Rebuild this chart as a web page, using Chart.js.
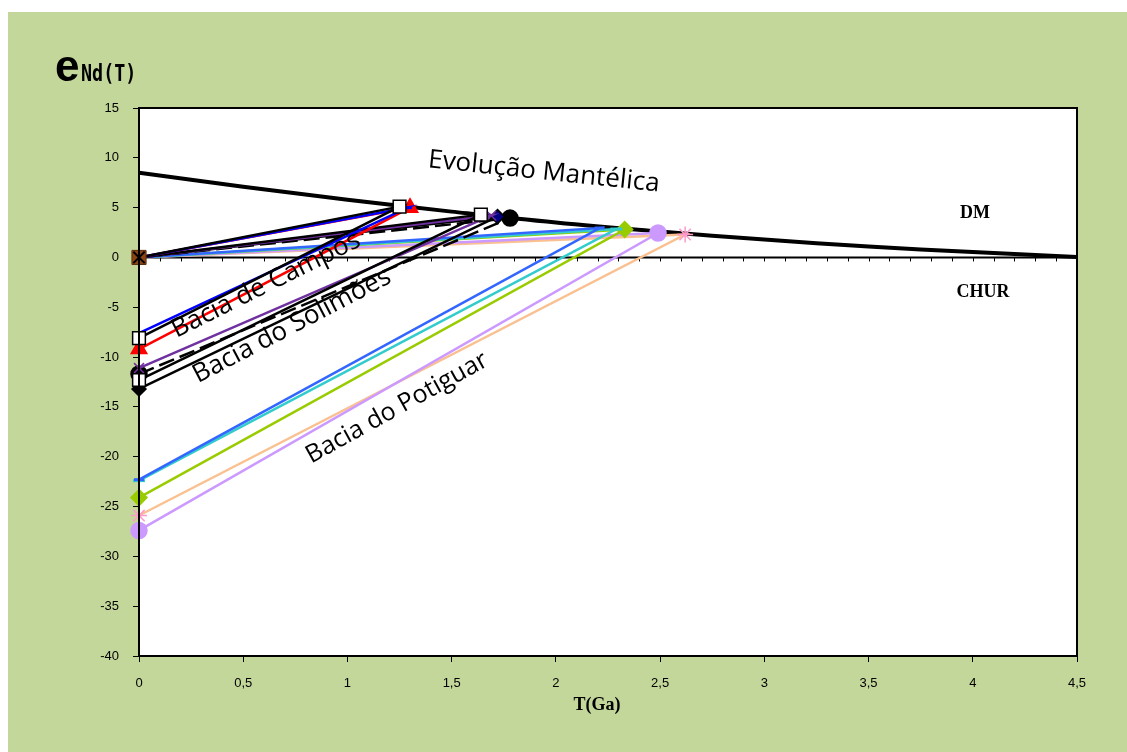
<!DOCTYPE html>
<html>
<head>
<meta charset="utf-8">
<script src="https://cdn.jsdelivr.net/npm/chart.js@4"></script>
<style>
  html, body { margin: 0; padding: 0; background: #ffffff; }
  canvas { display: block; }
</style>
</head>
<body>
<canvas id="nd" width="1127" height="752"></canvas>
<script>
// curva do manto empobrecido (DM)
var dmAges = [0, 0.5, 1, 1.5, 2, 2.5, 3, 3.5, 4, 4.5];
var dmEps = [8.5, 7.1, 5.8, 4.6, 3.5, 2.6, 1.8, 1.1, 0.55, 0.05];

// amostras: eNd(0), idade modelo TDM e eNd no TDM
var samples = ['Campos 1', 'Campos 2', 'Campos 3',
               'Solimoes 1', 'Solimoes 2', 'Solimoes 3', 'Solimoes 4',
               'Potiguar 1', 'Potiguar 2', 'Potiguar 3', 'Potiguar 4', 'Potiguar 5'];
var epsNow   = [-8.1, -7.6, -9.2, -12.3, -11.1, -13.2, -11.7, -22.3, -22.4, -24.1, -27.4, -25.9];
var tdmAges  = [1.25, 1.29, 1.30, 1.64, 1.69, 1.72, 1.78, 2.21, 2.29, 2.33, 2.49, 2.62];
var epsAtTdm = [5.1, 5.0, 5.0, 4.3, 4.2, 4.1, 3.95, 2.95, 2.85, 2.8, 2.45, 2.3];

var xTicks = [0, 0.5, 1, 1.5, 2, 2.5, 3, 3.5, 4, 4.5];
var yTicks = [-40, -35, -30, -25, -20, -15, -10, -5, 0, 5, 10, 15];

// estilo de cada amostra
var lineColors  = ['#000000', '#0000ff', '#ff0000', '#000000', '#7030a0', '#000000', '#000000',
                   '#3366ff', '#33cccc', '#99cc00', '#cc99ff', '#fac090'];
var markStyle   = ['rect', 'line', 'triangle', 'rect', 'crossRot', 'rectRot', 'circle',
                   'line', 'line', 'rectRot', 'circle', 'star'];
var markSize    = [9, 4, 9, 9, 7, 7, 8, 5, 6, 8, 8, 8];
var markFill    = ['#ffffff', '#0000ff', '#ff0000', '#ffffff', '#7030a0', '#000000', '#000000',
                   '#3366ff', '#33cccc', '#99cc00', '#cc99ff', '#ff99cc'];
var markTopFill = ['#ffffff', '#0000ff', '#ff0000', '#ffffff', '#7030a0', '#000080', '#000000',
                   '#3366ff', '#33cccc', '#99cc00', '#cc99ff', '#ff99cc'];
var markEdge    = ['#000000', '#0000ff', '#ff0000', '#000000', '#7030a0', '#000000', '#000000',
                   '#3366ff', '#33cccc', '#99cc00', '#cc99ff', '#ff99cc'];
var dashes      = [[], [], [], [], [], [], [16, 6], [], [], [], [], []];

var datasets = [];
for (i = 0; i < samples.length; i++) {
  datasets.push({
    label: samples[i],
    data: [{x: 0, y: epsNow[i]}, {x: tdmAges[i], y: epsAtTdm[i]}, {x: 0, y: 0}],
    borderColor: lineColors[i],
    borderWidth: 2.5,
    borderDash: dashes[i],
    pointStyle: markStyle[i],
    pointRadius: [markSize[i], markSize[i], 0],
    pointBackgroundColor: [markFill[i], markTopFill[i], markFill[i]],
    pointBorderColor: [markEdge[i], markEdge[i], markEdge[i]],
    pointBorderWidth: (markStyle[i] == 'line' ? 3 : 1.5),
    clip: false,
    order: i + 2
  });
}

// ponto na origem (quadrado marrom com X)
datasets.push({
  label: 'origem',
  data: [{x: 0, y: 0}],
  pointStyle: 'rect',
  pointRadius: 10,
  pointBackgroundColor: '#8b4513',
  pointBorderColor: '#5a2d0c',
  pointBorderWidth: 1,
  showLine: false,
  clip: false,
  order: 1
});
datasets.push({
  label: 'origem x',
  data: [{x: 0, y: 0}],
  pointStyle: 'crossRot',
  pointRadius: 8,
  pointBorderColor: '#000000',
  pointBorderWidth: 2,
  showLine: false,
  clip: false,
  order: 0
});

var dmPoints = [];
for (i = 0; i < dmAges.length; i++) {
  dmPoints.push({x: dmAges[i], y: dmEps[i]});
}
datasets.push({
  label: 'DM',
  data: dmPoints,
  borderColor: '#000000',
  borderWidth: 4,
  pointRadius: 0,
  tension: 0.4,
  order: 50
});

var framePlugin = {
  id: 'frame',
  beforeDraw: function(chart) {
    var c = chart.ctx, a = chart.chartArea;
    c.save();
    c.fillStyle = '#ffffff';
    c.fillRect(0, 0, chart.width, chart.height);
    c.fillStyle = '#c4d79b';
    c.fillRect(8, 12, chart.width - 8, chart.height - 12);
    c.fillStyle = '#ffffff';
    c.fillRect(a.left, a.top, a.right - a.left, a.bottom - a.top);
    c.restore();
  },
  beforeDatasetsDraw: function(chart) {
    var c = chart.ctx, a = chart.chartArea;
    var xs = chart.scales.x, ys = chart.scales.y;
    var y0 = ys.getPixelForValue(0);
    c.save();
    c.strokeStyle = '#000000';
    c.lineWidth = 2;
    c.beginPath();
    c.moveTo(a.left, y0);
    c.lineTo(a.right, y0);
    c.stroke();
    c.lineWidth = 1;
    for (var t = 1; t < 45; t++) {
      var px = Math.round(xs.getPixelForValue(t / 10)) + 0.5;
      c.beginPath();
      c.moveTo(px, y0);
      c.lineTo(px, y0 + 4);
      c.stroke();
    }
    c.restore();
  },
  afterDatasetsDraw: function(chart) {
    var c = chart.ctx, a = chart.chartArea;
    c.save();
    c.strokeStyle = '#000000';
    c.lineWidth = 2;
    c.strokeRect(a.left, a.top, a.right - a.left, a.bottom - a.top);

    c.fillStyle = '#000000';
    c.textAlign = 'center';
    c.textBaseline = 'middle';
    var labels = [
      ['Evolução Mantélica', 544, 172, 6, 26],
      ['Bacia de Campos', 266, 285, -26.5, 26],
      ['Bacia do Solimões', 292, 326, -27.5, 26],
      ['Bacia do Potiguar', 397, 408, -29, 25]
    ];
    for (var k = 0; k < labels.length; k++) {
      c.save();
      c.font = labels[k][4] + 'px "Open Sans"';
      c.translate(labels[k][1], labels[k][2]);
      c.rotate(labels[k][3] * Math.PI / 180);
      c.fillText(labels[k][0], 0, 0);
      c.restore();
    }

    c.font = 'bold 18px "Liberation Serif"';
    c.fillText('DM', 975, 213);
    c.fillText('CHUR', 983, 292);
    c.fillText('T(Ga)', 597, 705);

    c.textAlign = 'left';
    c.textBaseline = 'alphabetic';
    c.font = 'bold 44px "Liberation Sans"';
    c.fillText('e', 55, 81);
    c.save();
    c.translate(81, 81);
    c.scale(0.8, 1);
    c.font = 'bold 23px "DejaVu Sans Mono"';
    c.fillText('Nd(T)', 0, 0);
    c.restore();
    c.restore();
  }
};

var ctx = document.getElementById('nd');
new Chart(ctx, {
  type: 'line',
  data: { datasets: datasets },
  plugins: [framePlugin],
  options: {
    responsive: false,
    animation: false,
    devicePixelRatio: 1,
    layout: { padding: { top: 108, right: 50, bottom: 0, left: 0 } },
    plugins: { legend: { display: false }, tooltip: { enabled: false } },
    scales: {
      x: {
        type: 'linear',
        min: 0,
        max: 4.5,
        afterFit: function(s) { s.height = 96; },
        afterBuildTicks: function(s) { s.ticks = xTicks.map(function(v) { return {value: v}; }); },
        ticks: {
          color: '#000000',
          font: { family: 'Liberation Sans', size: 13 },
          padding: 14,
          maxRotation: 0,
          callback: function(v) { return String(v).replace('.', ','); }
        },
        grid: { drawOnChartArea: false, tickLength: 6, tickColor: '#000000' },
        border: { display: false }
      },
      y: {
        type: 'linear',
        min: -40,
        max: 15,
        afterFit: function(s) { s.width = 139; },
        afterBuildTicks: function(s) { s.ticks = yTicks.map(function(v) { return {value: v}; }); },
        ticks: {
          color: '#000000',
          font: { family: 'Liberation Sans', size: 13 },
          padding: 14
        },
        grid: { drawOnChartArea: false, tickLength: 6, tickColor: '#000000' },
        border: { display: false }
      }
    }
  }
});
</script>
</body>
</html>
